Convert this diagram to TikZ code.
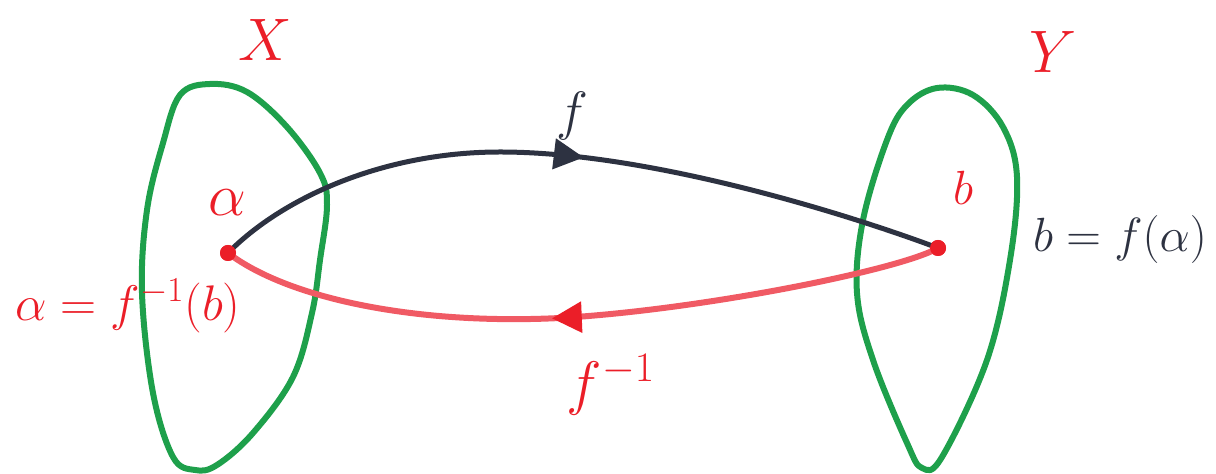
\documentclass[tikz,border=0pt]{standalone}
\usepackage{fix-cm}
\usetikzlibrary{decorations.markings,arrows.meta}
\definecolor{setgreen}{RGB}{30,160,75}
\definecolor{mred}{RGB}{235,30,40}
\definecolor{curvered}{RGB}{240,90,100}
\definecolor{ink}{RGB}{45,50,65}
\begin{document}
\begin{tikzpicture}[x=0.5pt,y=-0.5pt,
  setline/.style={draw=setgreen,line width=3pt,line join=round},
  dotpt/.style={circle,fill=mred,inner sep=0pt,minimum size=8pt},
  redlab/.style={text=mred,inner sep=0pt},
  blacklab/.style={text=ink,inner sep=0pt},
  fmap/.style={draw=ink,line width=2.5pt,line cap=round,postaction={decorate},
    decoration={markings,mark=at position 0.51 with {\arrow{Triangle[length=15pt,width=15pt,color=ink]}}}},
  finv/.style={draw=curvered,line width=3pt,line cap=round,postaction={decorate},
    decoration={markings,mark=at position 0.54 with {\arrow{Triangle[length=15pt,width=15pt,color=mred]}}}}
]
\useasboundingbox (0,0) rectangle (1216,474);

% sets
\draw[setline] plot[smooth cycle,tension=0.6] coordinates {(180,95) (210,84) (247,92) (287,127) (320,173) (327,205) (320,260) (312,313) (293,377) (253,433) (217,465) (195,470) (173,457) (153,393) (142,293) (147,210) (163,143)};
\draw[setline] plot[smooth cycle,tension=0.6] coordinates {(937,88) (907,105) (887,140) (863,220) (857,293) (873,360) (907,443) (922,468) (942,457) (987,360) (1010,260) (1017,177) (1003,127) (973,95)};

% points
\node[dotpt] (a) at (228,253) {};
\node[dotpt] (b) at (938,248) {};

% maps
\draw[fmap] (a.center) .. controls (280,200) and (380,152) .. (500,152) .. controls (650,152) and (850,215) .. (b.center);
\draw[finv] (b.center) .. controls (900,270) and (700,310) .. (560,318) .. controls (420,325) and (290,300) .. (a.center);
\node[dotpt] at (a) {};
\node[dotpt] at (b) {};

% labels
\node[redlab] (lX) at (265,40) {\fontsize{30}{34}\selectfont $X$};
\node[redlab] (lY) at (1053,52) {\fontsize{30}{34}\selectfont $Y$};
\node[blacklab] (lf) at (572,116) {\fontsize{27}{31}\selectfont $f$};
\node[redlab] (lalpha) at (227,203) {\fontsize{30}{34}\selectfont $\alpha$};
\node[redlab] (lb) at (963,188) {\fontsize{24}{28}\selectfont $b$};
\node[blacklab] (lbfa) at (1120,240) {\fontsize{24}{28}\selectfont $b=f(\alpha)$};
\node[redlab] (lafb) at (128,306) {\fontsize{25}{29}\selectfont $\alpha=f^{-1}(b)$};
\node[redlab] (lfinv) at (611,385) {\fontsize{30}{34}\selectfont $f^{-1}$};
\end{tikzpicture}
\end{document}
